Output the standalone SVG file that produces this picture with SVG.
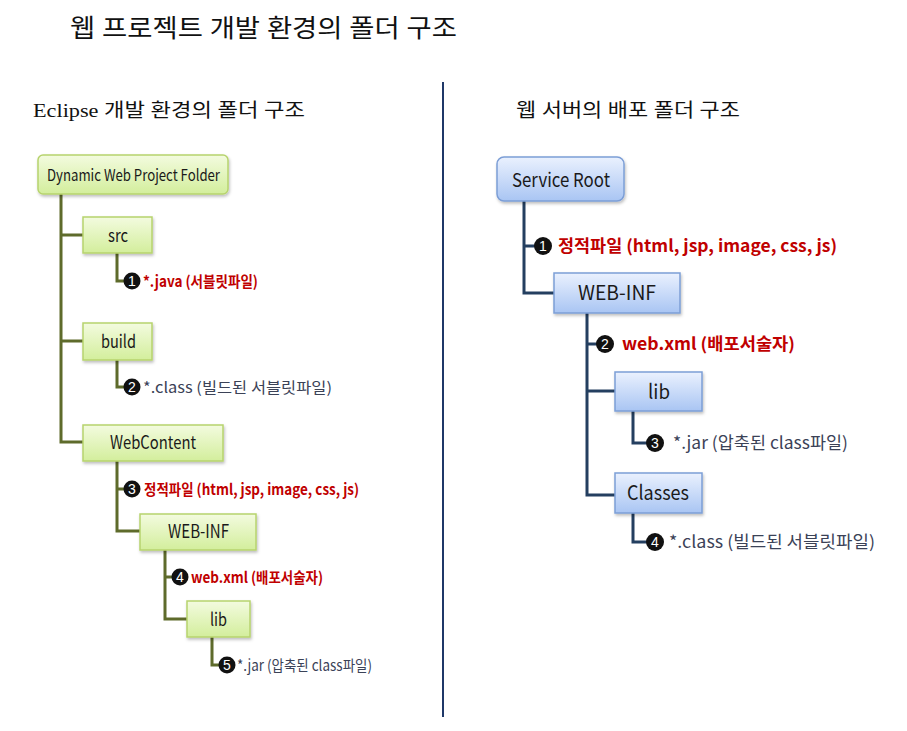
<svg xmlns="http://www.w3.org/2000/svg" width="907" height="731" viewBox="0 0 907 731">
<defs>
<linearGradient id="gg" x1="0" y1="0" x2="0" y2="1"><stop offset="0" stop-color="#F3FBDF"/><stop offset="1" stop-color="#D3EE9C"/></linearGradient>
<linearGradient id="bg" x1="0" y1="0" x2="0" y2="1"><stop offset="0" stop-color="#EAF1FE"/><stop offset="1" stop-color="#A9C5F3"/></linearGradient>
<filter id="sh" x="-10%" y="-10%" width="130%" height="140%"><feDropShadow dx="1" dy="2" stdDeviation="1.5" flood-color="#000" flood-opacity="0.25"/></filter>
<style>
.gbox{fill:url(#gg);stroke:#B7D36E;stroke-width:1.5;filter:url(#sh)}
.bbox{fill:url(#bg);stroke:#7C9ED6;stroke-width:1.5;filter:url(#sh)}
.nt{font-family:"Noto Sans CJK KR","Open Sans",sans-serif;fill:#1a1a1a}
.gl{stroke:#5E6B2B;stroke-width:3;fill:none}
.bl{stroke:#243F60;stroke-width:3;fill:none}
.dot{fill:#111}
.num{font-family:"Liberation Sans",sans-serif;font-size:14px;fill:#fff;text-anchor:middle}
.red{font-family:"Noto Sans CJK KR",sans-serif;font-weight:bold;fill:#C00000}
.gray{font-family:"Noto Sans CJK KR",sans-serif;fill:#3B4257}
.hd{font-family:"Liberation Serif","Noto Sans CJK KR",serif;fill:#111}
</style>
</defs>
<rect width="907" height="731" fill="#fff"/>
<text class="hd" x="70" y="37" font-size="25" textLength="387" lengthAdjust="spacingAndGlyphs">웹 프로젝트 개발 환경의 폴더 구조</text>
<text class="hd" x="33" y="117" font-size="19" textLength="272" lengthAdjust="spacingAndGlyphs">Eclipse 개발 환경의 폴더 구조</text>
<text class="hd" x="516" y="117" font-size="19" textLength="224" lengthAdjust="spacingAndGlyphs">웹 서버의 배포 폴더 구조</text>
<line x1="443" y1="82" x2="443" y2="717" stroke="#1F3868" stroke-width="2"/>
<g id="connectors">
<path class="gl" d="M61 194 V442 H83 M61 235 H83 M61 341 H83"/>
<path class="gl" d="M117 253 V281 H127"/>
<path class="gl" d="M117 360 V387 H127"/>
<path class="gl" d="M117 461 V531 H140 M117 489 H127"/>
<path class="gl" d="M165 550 V619 H187 M165 577 H175"/>
<path class="gl" d="M212 637 V665 H222"/>
<path class="bl" d="M524 201 V293 H554 M524 246 H538"/>
<path class="bl" d="M587 313 V495 H615 M587 391 H615 M587 344 H598"/>
<path class="bl" d="M633 411 V443 H650"/>
<path class="bl" d="M633 513 V542 H650"/>
</g>
<g id="n-root"><rect class="gbox" x="38" y="155" width="190" height="39" rx="5"/><text class="nt" x="47" y="181" font-size="16" textLength="173" lengthAdjust="spacingAndGlyphs">Dynamic Web Project Folder</text></g>
<g id="n-src"><rect class="gbox" x="83" y="217" width="69" height="36"/><text class="nt" x="108" y="242" font-size="18" textLength="20" lengthAdjust="spacingAndGlyphs">src</text></g>
<g id="n-src-java"><circle class="dot" cx="132" cy="281" r="8.5"/><text class="num" x="132" y="286">1</text><text class="red" x="143" y="287" font-size="15" textLength="115" lengthAdjust="spacingAndGlyphs">*.java (서블릿파일)</text></g>
<g id="n-build"><rect class="gbox" x="83" y="323" width="69" height="37"/><text class="nt" x="101" y="348" font-size="18" textLength="35" lengthAdjust="spacingAndGlyphs">build</text></g>
<g id="n-build-class"><circle class="dot" cx="132" cy="387" r="8.5"/><text class="num" x="132" y="392">2</text><text class="gray" x="143" y="393" font-size="15" textLength="189" lengthAdjust="spacingAndGlyphs">*.class (빌드된 서블릿파일)</text></g>
<g id="n-webcontent"><rect class="gbox" x="83" y="425" width="140" height="36"/><text class="nt" x="110" y="449" font-size="18" textLength="86" lengthAdjust="spacingAndGlyphs">WebContent</text></g>
<g id="n-static-l"><circle class="dot" cx="132" cy="489" r="8.5"/><text class="num" x="132" y="494">3</text><text class="red" x="144" y="495" font-size="15" textLength="215" lengthAdjust="spacingAndGlyphs">정적파일 (html, jsp, image, css, js)</text></g>
<g id="n-webinf-l"><rect class="gbox" x="140" y="514" width="116" height="36"/><text class="nt" x="168" y="538" font-size="18" textLength="61" lengthAdjust="spacingAndGlyphs">WEB-INF</text></g>
<g id="n-webxml-l"><circle class="dot" cx="180" cy="577" r="8.5"/><text class="num" x="180" y="582">4</text><text class="red" x="191" y="583" font-size="15" textLength="132" lengthAdjust="spacingAndGlyphs">web.xml (배포서술자)</text></g>
<g id="n-lib-l"><rect class="gbox" x="187" y="601" width="63" height="36"/><text class="nt" x="210" y="626" font-size="18" textLength="17" lengthAdjust="spacingAndGlyphs">lib</text></g>
<g id="n-jar-l"><circle class="dot" cx="227" cy="665" r="8.5"/><text class="num" x="227" y="670">5</text><text class="gray" x="237" y="671" font-size="15" textLength="135" lengthAdjust="spacingAndGlyphs">*.jar (압축된 class파일)</text></g>
<g id="n-serviceroot"><rect class="bbox" x="497" y="157" width="127" height="44" rx="7"/><text class="nt" x="512" y="187" font-size="19" textLength="98" lengthAdjust="spacingAndGlyphs">Service Root</text></g>
<g id="n-static-r"><circle class="dot" cx="543" cy="246" r="9"/><text class="num" x="543" y="251">1</text><text class="red" x="558" y="252" font-size="17" textLength="279" lengthAdjust="spacingAndGlyphs">정적파일 (html, jsp, image, css, js)</text></g>
<g id="n-webinf-r"><rect class="bbox" x="554" y="273" width="126" height="40"/><text class="nt" x="578" y="300" font-size="20" textLength="78" lengthAdjust="spacingAndGlyphs">WEB-INF</text></g>
<g id="n-webxml-r"><circle class="dot" cx="605" cy="344" r="9"/><text class="num" x="605" y="349">2</text><text class="red" x="622" y="350" font-size="17" textLength="173" lengthAdjust="spacingAndGlyphs">web.xml (배포서술자)</text></g>
<g id="n-lib-r"><rect class="bbox" x="615" y="372" width="87" height="39"/><text class="nt" x="648" y="399" font-size="20" textLength="22" lengthAdjust="spacingAndGlyphs">lib</text></g>
<g id="n-jar-r"><circle class="dot" cx="655" cy="443" r="9"/><text class="num" x="655" y="448">3</text><text class="gray" x="673" y="449" font-size="17" textLength="175" lengthAdjust="spacingAndGlyphs">*.jar (압축된 class파일)</text></g>
<g id="n-classes"><rect class="bbox" x="615" y="473" width="87" height="40"/><text class="nt" x="627" y="500" font-size="20" textLength="62" lengthAdjust="spacingAndGlyphs">Classes</text></g>
<g id="n-class-r"><circle class="dot" cx="655" cy="542" r="9"/><text class="num" x="655" y="547">4</text><text class="gray" x="669" y="548" font-size="17" textLength="206" lengthAdjust="spacingAndGlyphs">*.class (빌드된 서블릿파일)</text></g>
</svg>
